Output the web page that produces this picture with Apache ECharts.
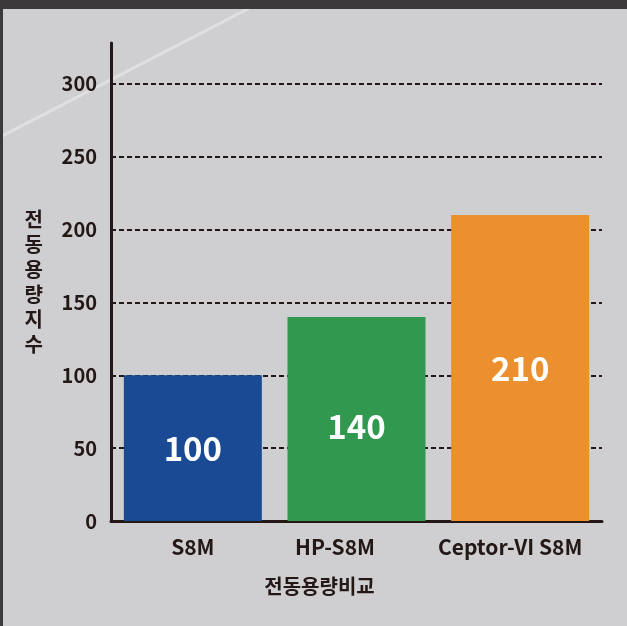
<!DOCTYPE html>
<html>
<head>
<meta charset="utf-8">
<script src="https://cdn.jsdelivr.net/npm/echarts@6/dist/echarts.min.js"></script>
<style>
  html, body { margin: 0; padding: 0; background: #3b3939; }
  #chart { position: absolute; left: 3px; top: 9px; width: 624px; height: 617px; background: #cfcfd1; }
</style>
</head>
<body>
<div id="chart"></div>
<script>
// 데이터
var categories = ["S8M", "HP-S8M", "Ceptor-VI S8M"];
var values = [100, 140, 210];
var barColors = ["#1a4a93", "#31994f", "#eb8f2f"];
var yTicks = [0, 50, 100, 150, 200, 250, 300];

var textColor = "#231815";
var font = "'Noto Sans CJK KR', 'Noto Sans', sans-serif";

// x label shift (px to the left), label offset in bars
var labelShift = [0, 43, 20];
var valueOffset = [[0, 0], [0, 7], [0, 0]];

var chart = echarts.init(document.getElementById("chart"));

var option = {
  animation: false,
  textStyle: { fontFamily: font },
  graphic: [
    {
      type: "line",
      silent: true,
      shape: { x1: -3, y1: 128, x2: 262, y2: -9 },
      style: { stroke: "rgba(255,255,255,0.35)", lineWidth: 3 },
      z: 0
    }
  ],
  grid: { left: 108, right: 25, top: 34, bottom: 105, containLabel: false },
  xAxis: {
    type: "category",
    data: categories.map(function (c, i) {
      return { value: c, textStyle: { padding: [0, labelShift[i], 0, 0] } };
    }),
    axisLine: { lineStyle: { color: textColor, width: 3 } },
    axisTick: { show: false },
    axisLabel: {
      interval: 0,
      hideOverlap: false,
      color: textColor,
      fontSize: 21,
      fontWeight: "bold",
      fontFamily: font,
      margin: 16
    },
    name: "전동용량비교",
    nameLocation: "middle",
    nameGap: 55,
    nameTextStyle: {
      color: textColor,
      fontSize: 20,
      fontWeight: "bold",
      fontFamily: font,
      padding: [0, 74, 0, 0]
    }
  },
  yAxis: {
    type: "value",
    min: yTicks[0],
    max: 328,
    interval: yTicks[1] - yTicks[0],
    axisLine: { show: true, lineStyle: { color: textColor, width: 3 } },
    axisTick: { show: false },
    axisLabel: {
      color: textColor,
      fontSize: 20,
      fontWeight: "bold",
      fontFamily: font,
      margin: 14,
      showMaxLabel: false
    },
    splitLine: {
      show: true,
      showMaxLine: false,
      lineStyle: { color: textColor, width: 2, type: [5, 3] }
    },
    name: "전\n동\n용\n량\n지\n수",
    nameLocation: "middle",
    nameRotate: 0,
    nameGap: 68,
    nameTextStyle: {
      color: textColor,
      fontSize: 20,
      fontWeight: "bold",
      fontFamily: font,
      lineHeight: 25
    }
  },
  series: [
    {
      type: "bar",
      barWidth: 138,
      data: values.map(function (v, i) {
        return {
          value: v,
          itemStyle: { color: barColors[i] },
          label: { offset: valueOffset[i] }
        };
      }),
      label: {
        show: true,
        position: "inside",
        color: "#ffffff",
        fontSize: 33,
        fontWeight: "bold",
        fontFamily: font
      },
      z: 3
    }
  ]
};

chart.setOption(option);
</script>
</body>
</html>
